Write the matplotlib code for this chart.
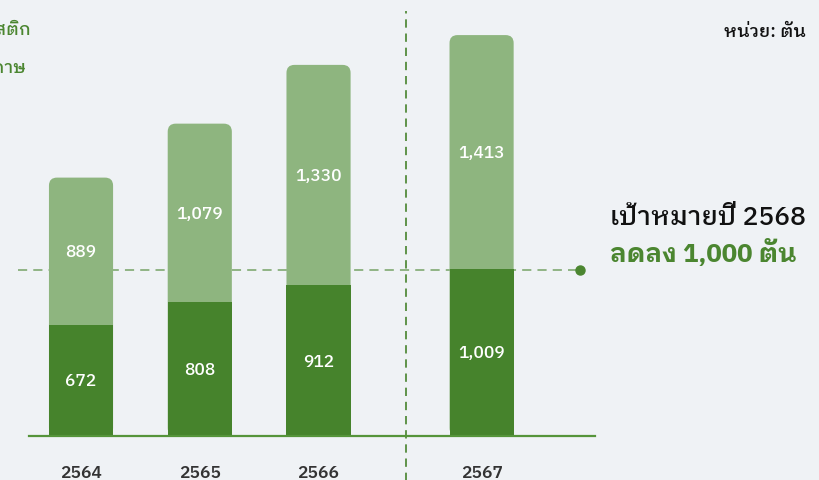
import matplotlib
matplotlib.use("Agg")
import matplotlib.pyplot as plt
import numpy as np
from matplotlib.patches import FancyBboxPatch

plt.rcParams["font.family"] = ["IBM Plex Sans Thai Looped", "Noto Sans", "DejaVu Sans"]

# ปริมาณขยะ (ตัน)
years = ["2564", "2565", "2566", "2567"]
lower_vals = [672, 808, 912, 1009]     # ส่วนล่าง (เขียวเข้ม)
upper_vals = [889, 1079, 1330, 1413]   # ส่วนบน (เขียวอ่อน)
target_val = 1000
legend_names = ["พลาสติก", "กระดาษ"]

BG = "#eff2f5"
DARK = "#46832c"
LIGHT = "#8eb57f"
GREEN_TXT = "#4b8630"

fig = plt.figure(figsize=(8.2, 4.81), dpi=100, facecolor=BG)
ax = fig.add_axes([29 / 820, 44 / 481, 566 / 820, 437 / 481])
ax.set_facecolor(BG)

x = np.arange(len(years), dtype=float)
x[-1] += 0.373          # เว้นช่องก่อนปีล่าสุด
width = 0.54

ax.set_xlim(-0.438, 4.328)
ax.set_ylim(0, 2640)

lower = np.array(lower_vals)
upper = np.array(upper_vals)
total = lower + upper

# อัตราส่วนพิกเซลต่อหน่วย เพื่อให้มุมโค้งเป็นวงกลม
fig.canvas.draw()
p0 = ax.transData.transform((0, 0))
p1 = ax.transData.transform((1, 1))
aspect = (p1[0] - p0[0]) / (p1[1] - p0[1])
radius = 8 / (p1[0] - p0[0])

top_bars = ax.bar(x, total, width, color="none", linewidth=0)
for rect in top_bars:
    fb = FancyBboxPatch((rect.get_x(), rect.get_y()), rect.get_width(), rect.get_height(),
                        boxstyle=f"round,pad=0,rounding_size={radius}",
                        mutation_aspect=aspect, facecolor=LIGHT, edgecolor="none", zorder=2)
    ax.add_patch(fb)
ax.bar(x, lower, width, color=DARK, linewidth=0, zorder=3)

for xi, lo, up in zip(x, lower, upper):
    ax.text(xi, lo / 2, f"{lo:,}", ha="center", va="center", color="white",
            fontsize=12.5, fontweight="medium", zorder=4)
    ax.text(xi, lo + up / 2, f"{up:,}", ha="center", va="center", color="white",
            fontsize=12.5, fontweight="medium", zorder=4)

# เส้นฐาน
ax.axhline(0, color="#55943a", linewidth=1.6, zorder=5, clip_on=False)

# เส้นแบ่งปีล่าสุด
ax.plot([2.737, 2.737], [-330, 2570], color=DARK, linewidth=1.2,
        linestyle=(0, (5, 3.5)), clip_on=False, zorder=1)

# เส้นเป้าหมาย
ax.plot([-0.53, 4.202], [target_val, target_val], color="#76a366", linewidth=1.1,
        linestyle=(0, (6, 4)), clip_on=False, zorder=1)
ax.plot([4.202], [target_val], "o", color=GREEN_TXT, markersize=6.5, clip_on=False, zorder=6)

fig.text(610 / 820, 1 - 218 / 481, "เป้าหมายปี 2568", ha="left", va="center",
         fontsize=19, color="#111111", fontweight="medium")
fig.text(610 / 820, 1 - 253 / 481, f"ลดลง {target_val:,} ตัน", ha="left", va="center",
         fontsize=18.5, color=GREEN_TXT, fontweight="bold")

fig.text(806 / 820, 1 - 32 / 481, "หน่วย: ตัน", ha="right", va="center",
         fontsize=13, color="#111111", fontweight="medium")

# คำอธิบายสัญลักษณ์ (ชิดขอบซ้าย)
fig.text(31 / 820, 1 - 30 / 481, legend_names[0], ha="right", va="center",
         fontsize=12.5, color=GREEN_TXT, fontweight="medium")
fig.text(26 / 820, 1 - 68 / 481, legend_names[1], ha="right", va="center",
         fontsize=12.5, color=GREEN_TXT, fontweight="medium")

ax.set_xticks(x, years)
ax.tick_params(axis="x", length=0, pad=21, labelsize=12.5, labelcolor="#333333")
for lbl in ax.get_xticklabels():
    lbl.set_fontweight("semibold")
ax.set_yticks([])
for s in ax.spines.values():
    s.set_visible(False)

fig.savefig("out.png", dpi=100, facecolor=BG)
